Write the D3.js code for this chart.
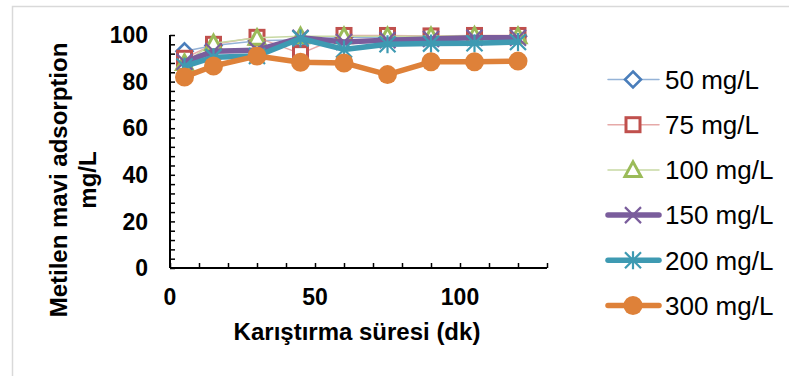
<!DOCTYPE html>
<html>
<head>
<meta charset="utf-8">
<script src="https://cdn.jsdelivr.net/npm/d3@7"></script>
<style>
  html, body { margin: 0; padding: 0; background: #fff; }
  svg { display: block; font-family: "Liberation Sans", Arial, sans-serif; }
</style>
</head>
<body>
<svg id="chart" width="789" height="376"></svg>
<script>
// Mixing time (min) and adsorbed methylene blue (mg/L) for each initial concentration
const times = [5, 15, 30, 45, 60, 75, 90, 105, 120];
const c50  = [93, 95.5, 97.5, 98, 99, 99, 99, 99.5, 99.5];
const c75  = [90, 96, 99, 92, 99.8, 99.8, 99.6, 99.8, 99.8];
const c100 = [88, 96.5, 98.8, 99.5, 99.5, 99.5, 99.5, 99.7, 99.5];
const c150 = [88.5, 93, 93.5, 98.8, 97, 97.8, 98.3, 98.8, 98.8];
const c200 = [86.5, 90.5, 91, 98.5, 93.8, 96, 96.3, 96.5, 97];
const c300 = [82, 86.7, 91, 88.3, 88, 83, 88.5, 88.5, 88.8];
const seriesNames = ["50 mg/L", "75 mg/L", "100 mg/L", "150 mg/L", "200 mg/L", "300 mg/L"];
const xTicks = [0, 50, 100];
const yTicks = [0, 20, 40, 60, 80, 100];

const series = [
  { name: seriesNames[0], values: c50,  line: "#95b3d7", mark: "#4a7ebb", width: 1.5, marker: "diamond" },
  { name: seriesNames[1], values: c75,  line: "#e6a9a8", mark: "#c0504d", width: 1.5, marker: "square" },
  { name: seriesNames[2], values: c100, line: "#c8d9a4", mark: "#9bbb59", width: 1.5, marker: "triangle" },
  { name: seriesNames[3], values: c150, line: "#7a5d9c", mark: "#7a5d9c", width: 5.5, marker: "x" },
  { name: seriesNames[4], values: c200, line: "#3e9ab2", mark: "#3e9ab2", width: 5.5, marker: "star" },
  { name: seriesNames[5], values: c300, line: "#de8139", mark: "#de8139", width: 5.5, marker: "circle" }
];

const svg = d3.select("#chart");

// outer frame
svg.append("rect")
  .attr("x", 12.5).attr("y", 6.5)
  .attr("width", 900).attr("height", 500)
  .attr("fill", "#fff").attr("stroke", "#d9d9d9").attr("stroke-width", 1.5);

const x = d3.scaleLinear().domain([0, 130]).range([170, 547]);
const y = d3.scaleLinear().domain([0, 100]).range([268, 35]);

// axes with inward ticks
const yAxis = d3.axisLeft(y).tickValues(d3.range(0, 101, 4)).tickSize(-5).tickFormat("");
const xAxis = d3.axisBottom(x).tickValues(d3.range(0, 131, 10)).tickSize(-5).tickFormat("");

const gy = svg.append("g").attr("transform", `translate(${x(0)},0)`).call(yAxis);
const gx = svg.append("g").attr("transform", `translate(0,${y(0)})`).call(xAxis);
[gy, gx].forEach(g => {
  g.selectAll("path.domain").attr("stroke", "#000").attr("stroke-width", 2).attr("d", null);
  g.selectAll(".tick line").attr("stroke", "#000").attr("stroke-width", 1.5);
});
gy.select("path.domain").attr("d", `M0,${y(100)}V${y(0)}`);
gx.select("path.domain").attr("d", `M${x(0)},0H${x(130)}`);

// tick labels
svg.append("g").selectAll("text").data(yTicks).join("text")
  .attr("x", 148).attr("y", d => y(d)).attr("dy", "0.36em")
  .attr("text-anchor", "end").attr("font-size", 23).attr("font-weight", "bold")
  .text(d => d);
svg.append("g").selectAll("text").data(xTicks).join("text")
  .attr("x", d => x(d)).attr("y", 305)
  .attr("text-anchor", "middle").attr("font-size", 23).attr("font-weight", "bold")
  .text(d => d);

// axis titles
svg.append("text")
  .attr("x", 357).attr("y", 340)
  .attr("text-anchor", "middle").attr("font-size", 24).attr("font-weight", "bold")
  .text("Karıştırma süresi (dk)");
const yt = svg.append("text")
  .attr("transform", "translate(0,180) rotate(-90)")
  .attr("text-anchor", "middle").attr("font-size", 24).attr("font-weight", "bold");
yt.append("tspan").attr("x", 0).attr("y", 67).text("Metilen mavi adsorption");
yt.append("tspan").attr("x", 0).attr("y", 96).text("mg/L");

// marker drawing
function drawMarker(g, type, color) {
  if (type === "diamond") {
    g.append("path").attr("d", "M0,-8L8,0L0,8L-8,0Z")
      .attr("fill", "#fff").attr("stroke", color).attr("stroke-width", 2.6);
  } else if (type === "square") {
    g.append("rect").attr("x", -7).attr("y", -7).attr("width", 14).attr("height", 14)
      .attr("fill", "#fff").attr("stroke", color).attr("stroke-width", 3);
  } else if (type === "triangle") {
    g.append("path").attr("d", "M0,-8L8,6.5L-8,6.5Z")
      .attr("fill", "#fff").attr("stroke", color).attr("stroke-width", 3)
      .attr("stroke-linejoin", "miter");
  } else if (type === "x") {
    g.append("path").attr("d", "M-8,-8L8,8M8,-8L-8,8")
      .attr("fill", "none").attr("stroke", color).attr("stroke-width", 2.2);
  } else if (type === "star") {
    g.append("path").attr("d", "M-8,-8L8,8M8,-8L-8,8M0,-9V9")
      .attr("fill", "none").attr("stroke", color).attr("stroke-width", 2.2);
  } else if (type === "circle") {
    g.append("circle").attr("r", 9.5).attr("fill", color);
  }
}

const line = d3.line().x((d, i) => x(times[i])).y(d => y(d));

// series: line then its markers
series.forEach(s => {
  const g = svg.append("g");
  g.append("path").datum(s.values).attr("d", line)
    .attr("fill", "none").attr("stroke", s.line).attr("stroke-width", s.width)
    .attr("stroke-linejoin", "round").attr("stroke-linecap", "round");
  s.values.forEach((v, i) => {
    const m = g.append("g").attr("transform", `translate(${x(times[i])},${y(v)})`);
    drawMarker(m, s.marker, s.mark);
  });
});

// legend
const legend = svg.append("g");
series.forEach((s, i) => {
  const ly = 79.5 + i * 45.2;
  const g = legend.append("g");
  g.append("line").attr("x1", 608).attr("x2", 659).attr("y1", ly).attr("y2", ly)
    .attr("stroke", s.line).attr("stroke-width", s.width).attr("stroke-linecap", "round");
  const m = g.append("g").attr("transform", `translate(633,${ly})`);
  drawMarker(m, s.marker, s.mark);
  g.append("text").attr("x", 665).attr("y", ly).attr("dy", "0.36em")
    .attr("font-size", 26).attr("fill", "#000").text(s.name);
});
</script>
</body>
</html>
